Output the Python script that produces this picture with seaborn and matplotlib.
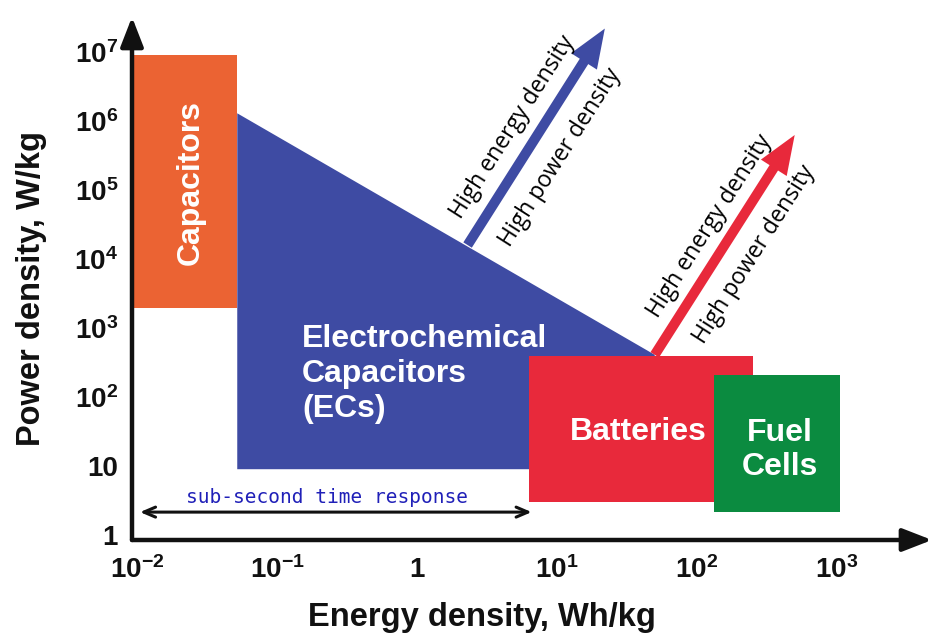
import matplotlib
matplotlib.use("Agg")
import matplotlib.pyplot as plt
from matplotlib.patches import Rectangle, Polygon
import seaborn as sns

# Ragone plot regions (energy density Wh/kg, power density W/kg)
cap_energy = [0.0094, 0.052]
cap_power = [1950, 9.0e6]
ec_energy = [0.052, 50, 50, 0.052]
ec_power = [1.3e6, 410, 9, 9]
bat_energy = [6.3, 250]
bat_power = [3.0, 400]
fc_energy = [132, 1050]
fc_power = [2.15, 210]

# direction arrows (tail -> tip)
blue_arrow_energy = [2.3, 22]
blue_arrow_power = [1.6e4, 2.2e7]
red_arrow_energy = [50, 500]
red_arrow_power = [410, 6.3e5]

# sub-second time response span
response_energy = [0.0105, 6.6]
response_power = 2.15

x_ticks = [1e-2, 1e-1, 1, 1e1, 1e2, 1e3]
x_ticklabels = ["10$^{-2}$", "10$^{-1}$", "1", "10$^{1}$", "10$^{2}$", "10$^{3}$"]
y_ticks = [1, 10, 1e2, 1e3, 1e4, 1e5, 1e6, 1e7]
y_ticklabels = ["1", "10", "10$^{2}$", "10$^{3}$", "10$^{4}$", "10$^{5}$", "10$^{6}$", "10$^{7}$"]

orange = "#EB6333"
blue = "#3E4BA3"
red = "#E8293B"
green = "#0B8B40"

sns.set_theme(style="white")
plt.rcParams["font.family"] = ["Liberation Sans", "DejaVu Sans"]
plt.rcParams["mathtext.default"] = "regular"

fig = plt.figure(figsize=(9.45, 6.42), dpi=100)
ax = fig.add_axes([132 / 945, 1 - 540 / 642, 800 / 945, 523 / 642])
ax.set_xscale("log")
ax.set_yscale("log")
ax.set_xlim(10 ** -2.036, 10 ** 3.68)
ax.set_ylim(10 ** -0.072, 10 ** 7.51)

# regions
ax.add_patch(Polygon(list(zip(ec_energy, ec_power)), closed=True, color=blue, lw=0, zorder=2))
ax.add_patch(Rectangle((cap_energy[0], cap_power[0]), cap_energy[1] - cap_energy[0],
                       cap_power[1] - cap_power[0], color=orange, lw=0, zorder=3))

arrow_kw = dict(arrowstyle="simple,head_length=1.4,head_width=1.1,tail_width=0.36",
                mutation_scale=20, shrinkA=0, shrinkB=0, lw=0)
ax.annotate("", xy=(blue_arrow_energy[1], blue_arrow_power[1]),
            xytext=(blue_arrow_energy[0], blue_arrow_power[0]),
            arrowprops=dict(color=blue, **arrow_kw), zorder=3)
ax.annotate("", xy=(red_arrow_energy[1], red_arrow_power[1]),
            xytext=(red_arrow_energy[0], red_arrow_power[0]),
            arrowprops=dict(color=red, **arrow_kw), zorder=3)

ax.add_patch(Rectangle((bat_energy[0], bat_power[0]), bat_energy[1] - bat_energy[0],
                       bat_power[1] - bat_power[0], color=red, lw=0, zorder=4))
ax.add_patch(Rectangle((fc_energy[0], fc_power[0]), fc_energy[1] - fc_energy[0],
                       fc_power[1] - fc_power[0], color=green, lw=0, zorder=5))

# region labels
lab = dict(color="white", fontweight="bold", zorder=6, fontsize=23)
ax.text(0.024, 1.3e5, "Capacitors", rotation=90, ha="center", va="center", **lab)
ax.text(0.151, 215, "Electrochemical\nCapacitors\n(ECs)", ha="left", va="center",
        linespacing=1.22, **lab)
ax.text(38, 31, "Batteries", ha="center", va="center", **lab)
ax.text(392, 17, "Fuel\nCells", ha="center", va="center", linespacing=1.15, **lab)

# arrow annotations
arr_txt = dict(rotation=57.5, rotation_mode="anchor", ha="center", va="center",
               fontsize=16.5, family=["Open Sans", "DejaVu Sans"], color="black", zorder=6)
ax.text(4.85, 8.2e5, "High energy density", **arr_txt)
ax.text(10.5, 3.0e5, "High power density", **arr_txt)
ax.text(123, 3.0e4, "High energy density", **arr_txt)
ax.text(259, 1.15e4, "High power density", **arr_txt)

# sub-second time response
ax.annotate("", xy=(response_energy[1], response_power), xytext=(response_energy[0], response_power),
            arrowprops=dict(arrowstyle="<->,head_length=0.7,head_width=0.3", lw=2.2,
                            color="#111111", shrinkA=0, shrinkB=0), zorder=6)
ax.text(0.227, 3.55, "sub-second time response", ha="center", va="center",
        fontsize=14, family=["DejaVu Sans Mono"], color="#2020B8", zorder=6)

# axes with arrows
for s in ax.spines.values():
    s.set_visible(False)
ax_arrow = dict(arrowstyle="-|>,head_length=0.9,head_width=0.35", lw=3.2, color="#111111",
                shrinkA=0, shrinkB=0, mutation_scale=20)
ax.annotate("", xy=(1, 0), xytext=(0, 0), xycoords="axes fraction",
            arrowprops=ax_arrow, annotation_clip=False)
ax.annotate("", xy=(0, 1), xytext=(0, 0), xycoords="axes fraction",
            arrowprops=ax_arrow, annotation_clip=False)

ax.set_xticks(x_ticks)
ax.set_xticklabels(x_ticklabels)
ax.set_yticks(y_ticks)
ax.set_yticklabels(y_ticklabels)
ax.minorticks_off()
ax.tick_params(axis="both", length=0, labelsize=20, colors="#111111")
ax.tick_params(axis="x", pad=12)
ax.tick_params(axis="y", pad=10)
for t in ax.get_xticklabels() + ax.get_yticklabels():
    t.set_fontweight("bold")
ax.grid(False)

ax.set_xlabel("Energy density, Wh/kg", fontsize=23.5, fontweight="bold", color="#111111")
ax.set_ylabel("Power density, W/kg", fontsize=23.5, fontweight="bold", color="#111111")
ax.xaxis.set_label_coords(0.4375, -0.118)
ax.yaxis.set_label_coords(-0.106, 0.48)

fig.savefig("out.png", dpi=100)
